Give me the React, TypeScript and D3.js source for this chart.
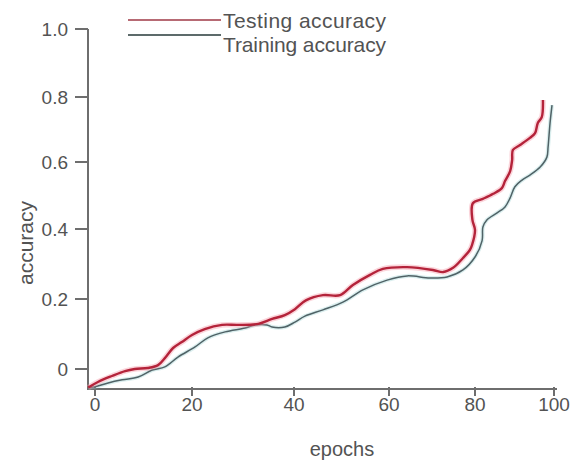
import React from "react";
import * as d3 from "d3";

const xTickValues = [0, 20, 40, 60, 80, 100];
const xTickLabels = ["0", "20", "40", "60", "80", "100"];
const yTickValues = [0, 0.2, 0.4, 0.6, 0.8, 1.0];
const yTickLabels = ["0", "0.2", "0.4", "0.6", "0.8", "1.0"];

const testingEpochs = [
  -1.4, 0.6, 3.5, 6.2, 8.2, 10.9, 13, 14.4, 16.1, 17.9, 20, 22.5, 25.9, 29, 33,
  35.7, 38.2, 40.2, 42.5, 46.1, 49.7, 52.4, 56, 58.7, 64.2, 70.2, 72.6, 74.9,
  77.2, 78.8, 79.3, 80, 79.4, 79.5, 82, 84.6, 86.8, 87.6, 88.9, 89.4, 89.6,
  91.4, 93.9, 95.2, 95.9, 96.9, 97.2,
];
const testingAccuracy = [
  -0.053, -0.037, -0.02, -0.006, 0, 0.003, 0.011, 0.031, 0.06, 0.077, 0.097,
  0.114, 0.126, 0.126, 0.129, 0.143, 0.154, 0.171, 0.196, 0.211, 0.211, 0.24,
  0.269, 0.286, 0.291, 0.283, 0.277, 0.289, 0.317, 0.34, 0.354, 0.397, 0.427,
  0.477, 0.49, 0.505, 0.522, 0.543, 0.573, 0.606, 0.637, 0.652, 0.674, 0.689,
  0.72, 0.738, 0.791,
];

const trainingEpochs = [
  -1.4, 0, 2.7, 5.6, 8.9, 11.8, 14.4, 17.1, 20.6, 23.1, 26.5, 30.4, 32.4, 34.7,
  35.7, 38.2, 40.2, 42.3, 46.1, 50.3, 54.5, 59.6, 64.2, 69.5, 73.5, 77.2, 80,
  81.8, 82, 83, 85.6, 87.6, 88.9, 90.1, 91.9, 93.9, 96.5, 98.2, 98.5, 99, 99.5,
];
const trainingAccuracy = [
  -0.053, -0.051, -0.04, -0.031, -0.023, -0.003, 0.006, 0.034, 0.063, 0.089,
  0.106, 0.117, 0.126, 0.126, 0.12, 0.12, 0.134, 0.151, 0.169, 0.191, 0.226,
  0.254, 0.266, 0.26, 0.263, 0.283, 0.32, 0.367, 0.406, 0.427, 0.448, 0.466,
  0.493, 0.526, 0.546, 0.561, 0.585, 0.615, 0.646, 0.72, 0.775,
];

const seriesNames = ["Testing accuracy", "Training accuracy"];

const TEXT = "#535353";
const AXIS = "#6e6e6e";
const FONT = "'Liberation Sans', Arial, sans-serif";

export default function App() {
  const x = d3.scaleLinear().domain(xTickValues).range([95, 192, 294, 389, 475, 554]);
  const y = d3.scaleLinear().domain(yTickValues).range([369, 299, 229, 162, 97, 29]);

  const axisX0 = 88;
  const axisY0 = 389;

  const testPts: [number, number][] = testingEpochs.map((e, i) => [e, testingAccuracy[i]]);
  const trainPts: [number, number][] = trainingEpochs.map((e, i) => [e, trainingAccuracy[i]]);
  const line = d3
    .line<[number, number]>()
    .x((d) => x(d[0]))
    .y((d) => y(d[1]))
    .curve(d3.curveCatmullRom.alpha(0.5));

  return (
    <svg
      width={574}
      height={461}
      style={{ position: "absolute", left: 0, top: 0, background: "#fff" }}
      fontFamily={FONT}
    >
      {/* axes */}
      <line x1={axisX0} x2={axisX0} y1={y(1.0)} y2={axisY0} stroke={AXIS} strokeWidth={2} />
      <line x1={axisX0 - 1} x2={x(100) + 3} y1={axisY0} y2={axisY0} stroke={AXIS} strokeWidth={2} />

      {yTickValues.map((v, i) => (
        <g key={"y" + i}>
          <line x1={axisX0 - 13} x2={axisX0} y1={y(v)} y2={y(v)} stroke={AXIS} strokeWidth={2} />
          <text x={68} y={y(v) + 7} textAnchor="end" fontSize={19} fill={TEXT}>
            {yTickLabels[i]}
          </text>
        </g>
      ))}
      {xTickValues.map((v, i) => (
        <g key={"x" + i}>
          <line x1={x(v)} x2={x(v)} y1={axisY0 - 2} y2={axisY0 + 7} stroke={AXIS} strokeWidth={2} />
          <text x={x(v)} y={411} textAnchor="middle" fontSize={19} fill={TEXT}>
            {xTickLabels[i]}
          </text>
        </g>
      ))}

      <text x={342} y={456} textAnchor="middle" fontSize={20} fill={TEXT}>
        epochs
      </text>
      <text
        transform="translate(33,243) rotate(-90)"
        textAnchor="middle"
        fontSize={21}
        fill={TEXT}
      >
        accuracy
      </text>

      {/* series with soft halo */}
      <path d={line(trainPts) || ""} fill="none" stroke="rgba(150,205,205,0.35)" strokeWidth={4} />
      <path d={line(trainPts) || ""} fill="none" stroke="#4f6266" strokeWidth={1.5} strokeLinejoin="round" />
      <path d={line(testPts) || ""} fill="none" stroke="rgba(245,150,165,0.4)" strokeWidth={5.5} />
      <path d={line(testPts) || ""} fill="none" stroke="#b4233a" strokeWidth={2.4} strokeLinejoin="round" />

      {/* legend */}
      <line x1={128} x2={221} y1={20} y2={20} stroke="#b76a74" strokeWidth={2.2} />
      <line x1={128} x2={221} y1={35} y2={35} stroke="#5d6b6b" strokeWidth={2} />
      <text x={223} y={28} fontSize={21} fill={TEXT} textLength={163} lengthAdjust="spacing">
        {seriesNames[0]}
      </text>
      <text x={223} y={52} fontSize={21} fill={TEXT} textLength={163} lengthAdjust="spacing">
        {seriesNames[1]}
      </text>
    </svg>
  );
}
